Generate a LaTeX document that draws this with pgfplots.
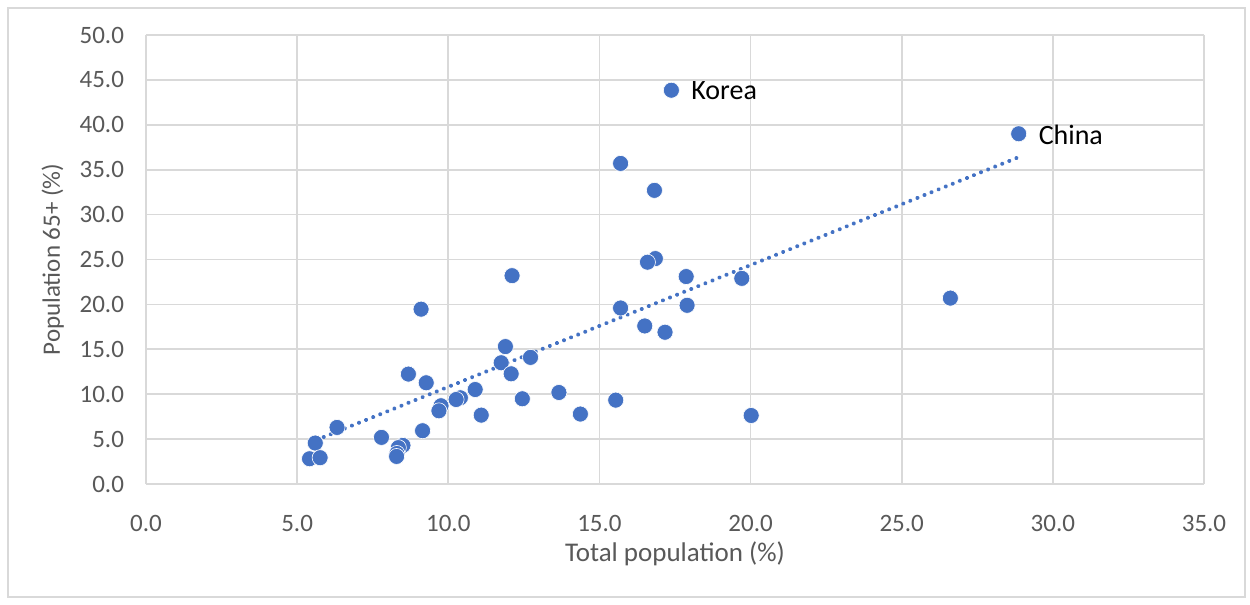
\documentclass[border=0pt]{standalone}
\usepackage{pgfplots}
\pgfplotsset{compat=1.18}
\usepackage{pgfplotstable}
\usepackage{fontspec}
\setmainfont{Carlito}
\definecolor{pt}{HTML}{4472C4}
\definecolor{gridc}{HTML}{D9D9D9}
\definecolor{tickc}{HTML}{595959}
\pgfplotstableread{
x y
17.38 43.85
28.87 39.0
15.70 35.7
16.82 32.7
16.85 25.1
16.59 24.7
17.87 23.1
19.71 22.9
12.11 23.2
26.61 20.7
15.70 19.6
17.90 19.9
9.10 19.47
16.50 17.6
17.17 16.9
11.89 15.3
11.75 13.5
12.72 14.1
12.08 12.27
8.68 12.24
9.27 11.27
10.89 10.52
10.40 9.6
10.26 9.41
13.66 10.19
12.45 9.49
15.54 9.34
9.76 8.71
9.69 8.15
11.09 7.67
14.37 7.79
20.02 7.63
6.32 6.3
9.15 5.93
7.79 5.19
5.60 4.56
8.50 4.30
8.35 4.05
8.30 3.40
8.29 3.07
5.41 2.81
5.76 2.93
}\data
\begin{document}
\begin{tikzpicture}[x=1pt,y=1pt]
\useasboundingbox (0,0) rectangle (625,302.5);
\fill[white] (0,0) rectangle (625,302.5);
\draw[gridc, line width=0.6pt] (4,4) rectangle (622.5,298.5);
\begin{axis}[
  at={(73pt,60.5pt)}, anchor=south west,
  scale only axis, width=529pt, height=224.5pt,
  xmin=0, xmax=35, ymin=0, ymax=50,
  xtick={0,5,...,35}, ytick={0,5,...,50},
  grid=major, major grid style={gridc, line width=0.8pt},
  axis line style={gridc, line width=0.8pt},
  axis x line*=bottom, axis y line*=left,
  x axis line style={-}, y axis line style={-},
  tick style={draw=none},
  tick label style={font=\fontsize{12.5}{14}\selectfont, text=tickc},
  /pgf/number format/assume math mode=true,
  /pgf/number format/.cd, fixed, fixed zerofill, precision=1, /pgfplots/.cd,
  xticklabel style={yshift=-12pt},
  yticklabel style={xshift=-7.5pt},
  xlabel={Total population (\%)}, ylabel={Population 65+ (\%)},
  label style={font=\fontsize{12.5}{15}\selectfont, text=tickc},
  xlabel style={font=\fontsize{13.5}{16}\selectfont, at={(axis description cs:0.5,0)}, yshift=-25.5pt},
  ylabel style={yshift=1pt},
  clip=false,
]
\addplot[only marks, mark=*, mark size=4pt, pt, mark options={draw=white, line width=0.3pt, fill=pt}] table[x=x,y=y] {\data};
\addplot[pt, line width=2pt, line cap=round, dash pattern=on 0.01pt off 3.8pt] coordinates {(5.41,4.6) (28.87,36.4)};
\node[anchor=west, font=\fontsize{14}{16}\selectfont, text=black] at (axis cs:17.38,43.85) [xshift=6.5pt] {Korea};
\node[anchor=west, font=\fontsize{14}{16}\selectfont, text=black] at (axis cs:28.87,39.0) [xshift=6.5pt, yshift=-0.5pt] {China};
\end{axis}
\end{tikzpicture}
\end{document}
